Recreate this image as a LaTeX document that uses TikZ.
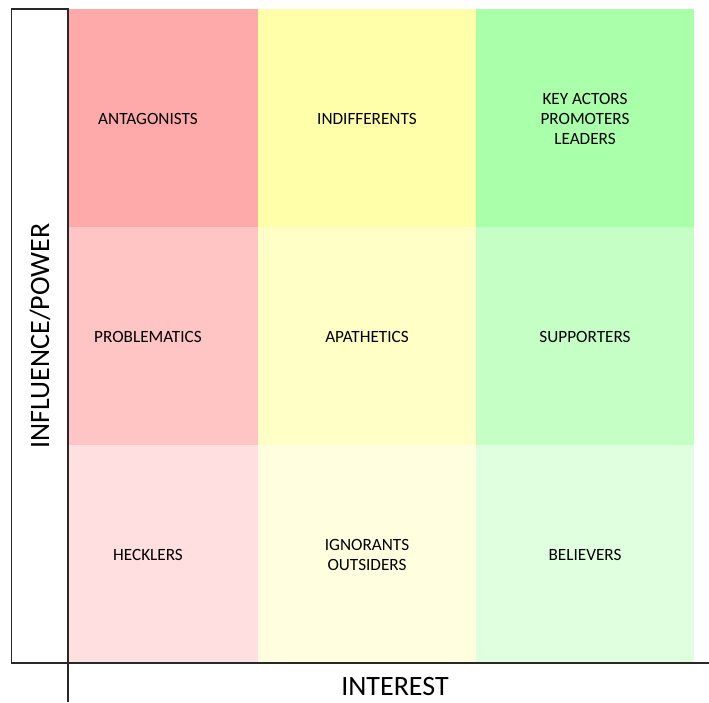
\documentclass[tikz,border=0pt]{standalone}
\usepackage{fontspec}
\setmainfont{Carlito}
\definecolor{rA}{RGB}{255,170,170}
\definecolor{yA}{RGB}{255,255,170}
\definecolor{gA}{RGB}{170,255,170}
\definecolor{rB}{RGB}{255,196,196}
\definecolor{yB}{RGB}{255,255,198}
\definecolor{gB}{RGB}{198,255,198}
\definecolor{rC}{RGB}{255,223,223}
\definecolor{yC}{RGB}{255,255,223}
\definecolor{gC}{RGB}{223,255,223}
\definecolor{axis}{RGB}{40,40,40}
\begin{document}
\begin{tikzpicture}[x=1pt,y=-1pt,
  cell/.style={draw=none,inner sep=0pt,outer sep=0pt,anchor=north west,
    minimum height=218pt},
  narrow/.style={cell,minimum width=190pt},
  wide/.style={cell,minimum width=218pt},
  lbl/.style={inner sep=0pt,align=center,font=\fontsize{17.2}{20}\selectfont},
  axisline/.style={draw=axis,line width=1.6pt},
  axislabel/.style={font=\fontsize{28}{32}\selectfont,inner sep=0pt}]
\useasboundingbox (0,0) rectangle (709,702);
% cells
\node[narrow,fill=rA] (c11) at (68,9) {};
\node[wide,fill=yA] (c12) at (258,9) {};
\node[wide,fill=gA] (c13) at (476,9) {};
\node[narrow,fill=rB] (c21) at (68,227) {};
\node[wide,fill=yB] (c22) at (258,227) {};
\node[wide,fill=gB] (c23) at (476,227) {};
\node[narrow,fill=rC] (c31) at (68,445) {};
\node[wide,fill=yC] (c32) at (258,445) {};
\node[wide,fill=gC] (c33) at (476,445) {};
% labels
\node[lbl] (t11) at ([xshift=-15pt,yshift=-1pt]c11.center) {ANTAGONISTS};
\node[lbl] (t12) at ([yshift=-1pt]c12.center) {INDIFFERENTS};
\node[lbl] (t13) at ([yshift=-1pt]c13.center) {KEY ACTORS\\PROMOTERS\\LEADERS};
\node[lbl] (t21) at ([xshift=-15pt,yshift=-1pt]c21.center) {PROBLEMATICS};
\node[lbl] (t22) at ([yshift=-1pt]c22.center) {APATHETICS};
\node[lbl] (t23) at ([yshift=-1pt]c23.center) {SUPPORTERS};
\node[lbl] (t31) at ([xshift=-15pt,yshift=-1pt]c31.center) {HECKLERS};
\node[lbl] (t32) at ([yshift=-1pt]c32.center) {IGNORANTS\\OUTSIDERS};
\node[lbl] (t33) at ([yshift=-1pt]c33.center) {BELIEVERS};
% left label box
\draw[draw=axis,line width=1.4pt] (11.5,9) rectangle (68,663);
\node[axislabel,rotate=90] (ylab) at (40,336) {INFLUENCE/POWER};
% axes
\coordinate (xa) at (11,663);
\coordinate (xb) at (709,663);
\coordinate (ya) at (68,9);
\coordinate (yb) at (68,702);
\draw[axisline] (xa) -- (xb);
\draw[axisline] (ya) -- (yb);
\node[axislabel] (xlab) at (395,686) {INTEREST};
\end{tikzpicture}
\end{document}
